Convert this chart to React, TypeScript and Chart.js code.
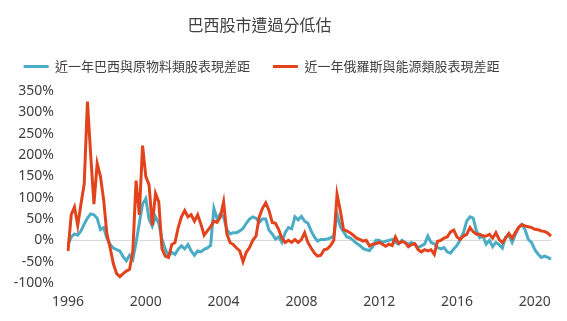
import React, { useEffect, useRef } from "react";
import { Chart, registerables } from "chart.js";

Chart.register(...registerables);

const titleText = "巴西股市遭過分低估";
const seriesNames = ["近一年巴西與原物料類股表現差距", "近一年俄羅斯與能源類股表現差距"];

// bi-monthly observations, Jan 1996 .. Nov 2020
const years = [1996, 1997, 1998, 1999, 2000, 2001, 2002, 2003, 2004, 2005, 2006, 2007, 2008, 2009, 2010, 2011, 2012, 2013, 2014, 2015, 2016, 2017, 2018, 2019, 2020];
const monthsOfYear = ["01", "03", "05", "07", "09", "11"];
const periods: string[] = [];
years.forEach((y) => monthsOfYear.forEach((m) => periods.push(`${y}-${m}`)));

const yTicks = { min: -100, max: 350, step: 50 };
const xTickEveryYears = 4;

const brazilGap = [
  -10, 8, 15, 12, 22, 38, 52, 62, 60, 52, 25, 30, 5, -10, -18, -22, -25, -38, -48, -35,
  -45, -5, 40, 85, 98, 50, 33, 55, 40, 2, -20, -37, -28, -33, -21, -13, -20, -10, -25, -35,
  -25, -27, -21, -18, -12, 75, 50, 62, 55, 25, 15, 18, 18, 22, 28, 40, 50, 55, 52, 42,
  50, 50, 24, 15, 3, 8, -5, 18, 30, 27, 55, 48, 56, 45, 40, 22, 8, -2, 2, 2,
  3, 6, 10, 62, 32, 20, 8, 6, 0, -7, -12, -19, -22, -24, -15, 0, 0, -5, -2, 0,
  2, -5, -9, 0, -5, -9, -5, -9, -17, -13, -9, 10, -5, -8, -17, -20, -17, -27, -30, -20,
  -12, 2, 18, 45, 55, 52, 22, 6, 10, -9, 0, -15, -5, -10, -18, 8, 12, -5, 14, 30,
  37, 25, 2, -5, -22, -32, -40, -37, -40, -44,
];

const russiaGap = [
  -25, 60, 78, 35, 85, 132, 325, 200, 85, 180, 150, 95, 15, -18, -55, -78, -85, -78, -72, -68,
  -25, 140, 60, 222, 150, 130, 35, 110, 90, -20, -37, -40, -10, -5, 30, 55, 70, 55, 60, 45,
  60, 38, 12, 22, 32, 45, 42, 55, 90, 15, -5, -10, -18, -25, -50, -28, -17, 0, 10, 55,
  75, 88, 70, 42, 40, 25, 5, -5, 0, -5, 2, -5, 2, 18, -5, -18, -30, -37, -35, -22,
  -20, -12, 0, 108, 70, 25, 22, 18, 12, 5, 2, -2, 0, -13, -9, -8, -5, -9, -14, -9,
  -12, 8, -7, -3, -5, -15, -10, -8, -22, -27, -22, -25, -22, -33, -2, 0, 5, 8, 20, 24,
  8, 2, 10, 14, 30, 20, 14, 14, 10, 10, 14, 5, 18, 2, -5, 5, 16, 5, 18, 30,
  37, 34, 32, 30, 26, 25, 22, 21, 17, 10,
];

const BLUE = "#4bacc6";
const RED = "#e2421c";
const TEXT = "#404040";

export default function App() {
  const ref = useRef<HTMLCanvasElement | null>(null);

  useEffect(() => {
    if (!ref.current) return;
    const shiftPlugin = {
      id: "shiftHeader",
      afterLayout(chart: any) {
        if (chart.titleBlock) {
          chart.titleBlock.left += -16;
          chart.titleBlock.right += -16;
        }
        if (chart.legend) {
          chart.legend.left += -14;
          chart.legend.right += -14;
          chart.legend.top -= 8;
          chart.legend.bottom -= 8;
        }
      },
    };
    const chart = new Chart(ref.current, {
      type: "line",
      data: {
        labels: periods,
        datasets: [
          {
            label: seriesNames[0],
            data: brazilGap,
            borderColor: BLUE,
            backgroundColor: BLUE,
            borderWidth: 3,
            pointRadius: 0,
            tension: 0,
            order: 1,
          },
          {
            label: seriesNames[1],
            data: russiaGap,
            borderColor: RED,
            backgroundColor: RED,
            borderWidth: 3,
            pointRadius: 0,
            tension: 0,
            order: 0,
          },
        ],
      },
      options: {
        animation: false,
        responsive: false,
        maintainAspectRatio: false,
        layout: { padding: { left: 0, right: 16, top: 0, bottom: 0 } },
        plugins: {
          title: {
            display: true,
            text: titleText,
            color: TEXT,
            font: { family: "'Noto Sans CJK TC', 'Noto Sans', sans-serif", size: 16, weight: "normal" },
            padding: { top: 15, bottom: 11 },
          },
          legend: {
            display: true,
            position: "top",
            labels: {
              color: TEXT,
              font: { family: "'Noto Sans CJK TC', 'Noto Sans', sans-serif", size: 13 },
              boxWidth: 25,
              boxHeight: 3,
              padding: 22.8,
              sort: (a: any, b: any) => a.datasetIndex - b.datasetIndex,
              generateLabels: (chart: any) =>
                chart.data.datasets.map((ds: any, i: number) => ({
                  text: ds.label,
                  fillStyle: ds.borderColor,
                  strokeStyle: ds.borderColor,
                  lineWidth: 0,
                  hidden: false,
                  datasetIndex: i,
                  fontColor: TEXT,
                })),
            },
          },
          tooltip: { enabled: false },
        },
        scales: {
          x: {
            type: "category",
            offset: false,
            grid: { display: false, drawTicks: false },
            border: { display: false },
            ticks: {
              autoSkip: false,
              maxRotation: 0,
              minRotation: 0,
              padding: 11,
              color: TEXT,
              font: { family: "'Noto Sans', sans-serif", size: 14 },
              callback: (_v: any, i: number) => {
                const [y, m] = periods[i].split("-");
                return m === "01" && Number(y) % xTickEveryYears === 0 ? y : "";
              },
            },
            afterFit: (scale: any) => {
              scale.height = 38;
            },
          },
          y: {
            min: yTicks.min,
            max: yTicks.max,
            border: { display: false },
            grid: {
              drawTicks: false,
              color: (ctx: any) => (ctx.tick && ctx.tick.value === 0 ? "#d9d9d9" : "rgba(0,0,0,0)"),
              lineWidth: 1,
            },
            ticks: {
              stepSize: yTicks.step,
              padding: 14,
              color: TEXT,
              font: { family: "'Noto Sans', sans-serif", size: 14 },
              callback: (v: any) => `${v}%`,
            },
            afterFit: (scale: any) => {
              scale.width = 68;
            },
          },
        },
      },
      plugins: [shiftPlugin],
    });
    return () => chart.destroy();
  }, []);

  return (
    <div style={{ position: "fixed", left: 0, top: 0, width: 567, height: 321, background: "#fff" }}>
      <canvas ref={ref} width={567} height={321} style={{ width: 567, height: 321 }} />
    </div>
  );
}
